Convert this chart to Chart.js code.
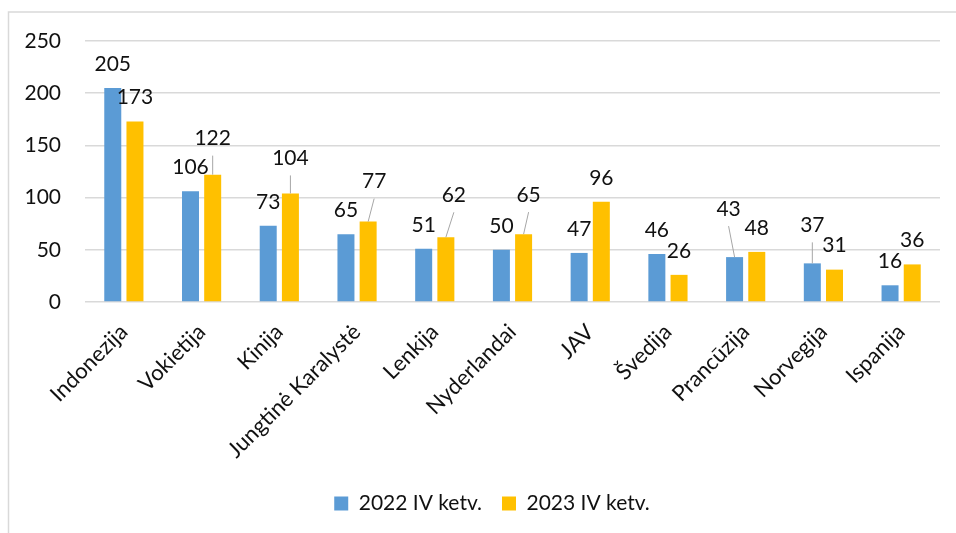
<!DOCTYPE html>
<html>
<head>
<meta charset="utf-8">
<script src="https://cdn.jsdelivr.net/npm/chart.js@4"></script>
<style>
  html, body { margin: 0; padding: 0; background: #fff; }
  #wrap { position: relative; width: 956px; height: 533px; }
</style>
</head>
<body>
<div id="wrap"><canvas id="barchart"></canvas></div>
<script>
const countries = ["Indonezija", "Vokietija", "Kinija", "Jungtinė Karalystė", "Lenkija", "Nyderlandai", "JAV", "Švedija", "Prancūzija", "Norvegija", "Ispanija"];
const q4_2022 = [205, 106, 73, 65, 51, 50, 47, 46, 43, 37, 16];
const q4_2023 = [173, 122, 104, 77, 62, 65, 96, 26, 48, 31, 36];
const yTicks = [0, 50, 100, 150, 200, 250];

// label nudges (px) where Excel moved a label and drew a leader line
const nudge2022 = [[0, 0], [0, 0], [0, 0], [0, 0], [0, 0], [0, 0], [0, 0], [0, 0], [-6, -24], [0, -14], [0, 0]];
const nudge2023 = [[0, 0], [0, -12], [0, -11], [6, -16], [8, -18], [5, -15], [0, 0], [0, 0], [0, 0], [0, 0], [0, 0]];

const FONT = "Lato, 'Open Sans', sans-serif";

const frame = {
  id: "frame",
  beforeDraw(chart) {
    const c = chart.ctx;
    c.save();
    c.strokeStyle = "#d9d9d9";
    c.lineWidth = 1.5;
    c.beginPath();
    c.moveTo(956, 12);
    c.lineTo(8.5, 12);
    c.lineTo(8.5, 533);
    c.stroke();
    c.restore();
  }
};

// Excel centres the legend a bit right of the canvas middle
const legendShift = {
  id: "legendShift",
  afterLayout(chart) {
    chart.legend.left += 44;
  }
};

const valueLabels = {
  id: "valueLabels",
  afterDatasetsDraw(chart) {
    const c = chart.ctx;
    const nudges = [nudge2022, nudge2023];
    c.save();
    c.font = "21px " + FONT;
    c.textAlign = "center";
    c.textBaseline = "middle";
    chart.data.datasets.forEach((ds, di) => {
      chart.getDatasetMeta(di).data.forEach((bar, i) => {
        const [dx, dy] = nudges[di][i];
        const lx = bar.x + dx;
        const ly = bar.y - 24 + dy;
        if (dy < -8) {
          c.strokeStyle = "#a6a6a6";
          c.lineWidth = 1;
          c.beginPath();
          c.moveTo(lx, ly + 17);
          c.lineTo(bar.x, bar.y);
          c.stroke();
        }
        c.fillStyle = "#111";
        c.fillText(String(ds.data[i]), lx, ly);
      });
    });
    c.restore();
  }
};

new Chart(document.getElementById("barchart"), {
  type: "bar",
  data: {
    labels: countries,
    datasets: [
      {
        label: "2022 IV ketv.",
        data: q4_2022,
        backgroundColor: "#5b9bd5",
        categoryPercentage: 0.571,
        barPercentage: 0.766,
      },
      {
        label: "2023 IV ketv.",
        data: q4_2023,
        backgroundColor: "#ffc000",
        categoryPercentage: 0.571,
        barPercentage: 0.766,
      },
    ],
  },
  options: {
    responsive: true,
    maintainAspectRatio: false,
    animation: false,
    layout: { padding: { top: 41, right: 16, bottom: 9, left: 0 } },
    plugins: {
      legend: {
        position: "bottom",
        labels: {
          boxWidth: 14,
          boxHeight: 14,
          padding: 20,
          color: "#111",
          font: { family: FONT, size: 21 },
        },
      },
      tooltip: { enabled: false },
    },
    scales: {
      x: {
        grid: { display: false, drawTicks: false },
        border: { display: false },
        ticks: {
          minRotation: 45,
          maxRotation: 45,
          padding: 17,
          color: "#111",
          font: { family: FONT, size: 22 },
        },
        afterFit(scale) { scale.height = 171; },
      },
      y: {
        min: 0,
        max: 250,
        afterBuildTicks(scale) { scale.ticks = yTicks.map(v => ({ value: v })); },
        grid: { color: "#d9d9d9", lineWidth: 1.5, drawTicks: false },
        border: { display: false },
        ticks: {
          padding: 24,
          color: "#111",
          font: { family: FONT, size: 21 },
        },
        afterFit(scale) { scale.width = 85; },
      },
    },
  },
  plugins: [frame, legendShift, valueLabels],
});
</script>
</body>
</html>
